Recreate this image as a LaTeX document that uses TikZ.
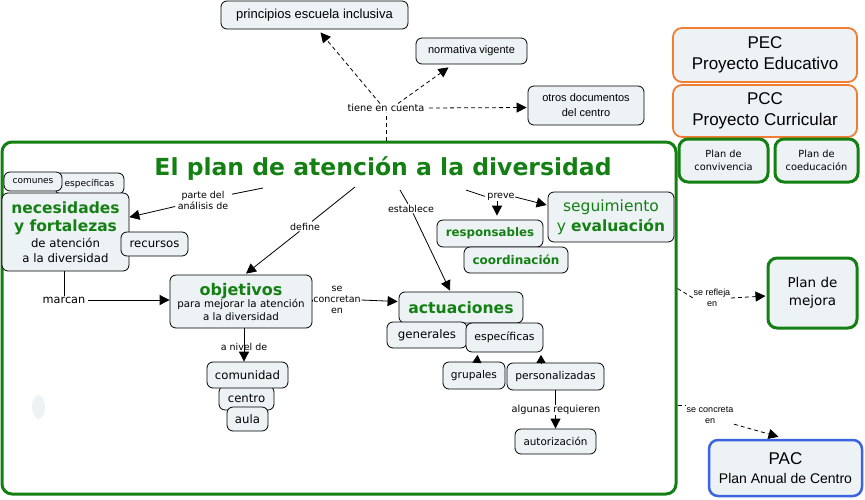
\documentclass[tikz,border=0pt]{standalone}
\usepackage{fontspec}
\setmainfont{DejaVu Sans}
\newfontfamily\verd{DejaVu Sans}
\newfontfamily\arial{Liberation Sans}
\usetikzlibrary{arrows.meta,calc}
\definecolor{mygreen}{RGB}{20,128,20}
\definecolor{myorange}{RGB}{240,125,50}
\definecolor{myblue}{RGB}{60,100,225}
\definecolor{nfill}{RGB}{237,242,245}
\newcommand{\fsz}[2]{\fontsize{#1}{#2}\selectfont}
\begin{document}
\begin{tikzpicture}[x=1pt,y=-1pt,
  cbox/.style={draw=black, line width=0.8pt, rounded corners=6pt, fill=nfill, inner sep=0pt, align=center, text=black},
  gbox/.style={cbox, draw=mygreen, line width=3pt, rounded corners=9pt},
  obox/.style={cbox, draw=myorange, line width=1.8pt, rounded corners=9pt},
  blbox/.style={cbox, draw=myblue, line width=2.5pt, rounded corners=9pt},
  sz/.style 2 args={minimum width=#1pt, minimum height=#2pt},
  lbl/.style={inner sep=0.5pt, align=center, font=\verd\fsz{9.5}{11}},
  con/.style={line width=0.8pt, draw=black},
  arr/.style={con, -{Triangle[length=10pt,width=10pt]}},
  sarr/.style={con, -{Triangle[length=8pt,width=9pt]}},
  dsh/.style={dash pattern=on 4pt off 3pt}]
\useasboundingbox (0,0) rectangle (865,499);

% faint blob
\fill[nfill] (38.5,407) ellipse [x radius=6.5pt, y radius=12pt];

% main frame and title
\node[draw=mygreen, line width=3pt, rounded corners=10pt, minimum width=674pt, minimum height=352pt, inner sep=0pt] (main) at (339,318) {};
\node[anchor=base, font=\verd\bfseries\fsz{23.5}{28}, text=mygreen, inner sep=0pt] (title) at (383,175) {El plan de atención a la diversidad};

% top concepts
\node[cbox, sz={187}{28}, font=\arial\fsz{13}{15}] (princ) at (314.5,15) {principios escuela inclusiva};
\node[cbox, sz={111}{26}, font=\arial\fsz{11}{13}] (norm) at (471.5,51) {normativa vigente};
\node[cbox, sz={116}{39}, font=\arial\fsz{11}{15}] (otros) at (586,105.5) {otros documentos\\del centro};
\node[lbl, font=\verd\fsz{9.8}{12}] (tiene) at (386,108) {tiene en cuenta};

% right side
\node[obox, sz={184}{54}, font=\arial\fsz{17}{21}] (pec) at (765,55) {PEC\\Proyecto Educativo};
\node[obox, sz={184}{52}, font=\arial\fsz{17}{21}] (pcc) at (765,111) {PCC\\Proyecto Curricular};
\node[gbox, sz={89}{43}, font=\verd\fsz{9.8}{13}] (conv) at (723.5,160.5) {Plan de\\convivencia};
\node[gbox, sz={83}{43}, font=\verd\fsz{9.8}{13}] (coed) at (816.5,160.5) {Plan de\\coeducación};
\node[gbox, sz={89}{70}, font=\verd\fsz{13.5}{18}] (mejora) at (812.5,293) {Plan de\\mejora};
\node[blbox, sz={153}{56}, font=\arial\fsz{14}{19}] (pac) at (785.5,468) {{\fsz{17}{19}PAC}\\Plan Anual de Centro};
\node[lbl, font=\arial\fsz{9}{11}] (refl) at (712,298) {se refleja\\en};
\node[lbl, font=\arial\fsz{9}{11}] (concr) at (710,415) {se concreta\\en};

% left group
\node[cbox, sz={69}{21}, font=\verd\fsz{9}{11}] (esp1) at (89.5,183.5) {específicas};
\node[cbox, sz={58}{19}, font=\verd\fsz{9}{11}] (comunes) at (33,181.5) {comunes};
\node[cbox, sz={127}{78}, font=\verd\fsz{11.7}{15}] (nec) at (65.5,232) {{\bfseries\color{mygreen}\fsz{15.5}{18}necesidades}\\[3pt]{\bfseries\color{mygreen}\fsz{15.5}{18}y fortalezas}\\[1pt]de atención\\a la diversidad};
\node[cbox, sz={67}{24}, font=\verd\fsz{11.7}{14}] (rec) at (154.5,244) {recursos};
\node[lbl] (parte) at (203,200) {parte del\\análisis de};
\node[lbl] (define) at (305,227) {define};
\node[lbl, font=\verd\fsz{11.3}{13}] (marcan) at (64,300) {marcan};

% objetivos
\node[cbox, sz={142}{53}, font=\verd\fsz{10.3}{12.5}] (obj) at (241,301.5) {{\bfseries\color{mygreen}\fsz{16}{19}objetivos}\\para mejorar la atención\\a la diversidad};
\node[lbl] (concretan) at (337,300) {se\\concretan\\en};
\node[lbl] (anivel) at (244,347) {a nivel de};
\node[cbox, sz={55}{24}, font=\verd\fsz{11.7}{14}] (centro) at (246.5,398) {centro};
\node[cbox, sz={81}{26}, font=\verd\fsz{11.7}{14}] (com) at (247.5,375) {comunidad};
\node[cbox, sz={41}{24}, font=\verd\fsz{11.7}{14}] (aula) at (247.5,419) {aula};

% actuaciones
\node[lbl] (estab) at (411,209) {establece};
\node[cbox, sz={124}{31}, font=\verd\bfseries\fsz{15.6}{18}, text=mygreen] (act) at (461,307.5) {actuaciones};
\node[cbox, sz={80}{26}, font=\verd\fsz{11.8}{14}] (gen) at (427,335) {generales};
\node[cbox, sz={77}{29}, font=\verd\fsz{10.9}{13}] (esp2) at (504.5,337.5) {específicas};
\node[cbox, sz={62}{27}, font=\verd\fsz{10.6}{13}] (grup) at (474,375.5) {grupales};
\node[cbox, sz={97}{27}, font=\verd\fsz{10.7}{13}] (pers) at (555.5,376.5) {personalizadas};
\node[lbl, font=\verd\fsz{9.8}{12}] (alg) at (556,410) {algunas requieren};
\node[cbox, sz={81}{25}, font=\verd\fsz{10.4}{13}] (autor) at (555.5,441.5) {autorización};

% seguimiento
\node[lbl] (preve) at (501,197) {preve};
\node[cbox, sz={126}{50}, font=\verd\fsz{15.5}{20}, text=mygreen] (seg) at (611,217) {seguimiento\\y \textbf{evaluación}};
\node[cbox, sz={106}{27}, font=\verd\bfseries\fsz{11.8}{14}, text=mygreen] (resp) at (490,233.5) {responsables};
\node[cbox, sz={104}{26}, font=\verd\bfseries\fsz{12}{14}, text=mygreen] (coord) at (516,260) {coordinación};

% link start points under the title
\coordinate (ps) at (263,188);
\coordinate (ds) at (355,187);
\coordinate (es) at (400,190);
\coordinate (pvs) at (466,190);

% connectors: tiene en cuenta
\draw[con,dsh] (main.north -| tiene) -- (tiene.south);
\draw[arr,dsh] ($(tiene.north)+(-6,0)$) -- ($(princ.south)+(6,3)$);
\draw[arr,dsh] ($(tiene.north)+(12,0)$) -- ($(norm.south)+(-23,3)$);
\draw[arr,dsh, shorten <=4pt] (tiene.east) -- ($(otros.west)+(-1,2)$);

% right-side connectors
\draw[con,dsh] (main.east |- refl.north) -- (refl.west);
\draw[arr,dsh] (refl.east) -- ($(mejora.west)+(-1,3)$);
\draw[con,dsh] (main.east |- concr.north) -- (concr.north west);
\draw[arr,dsh] (concr.south east) -- ($(pac.north)+(-7,-2)$);

% left connectors
\draw[con, shorten >=3pt] (ps) -- (parte);
\draw[arr, shorten <=2pt] (parte) -- (nec);
\draw[con, shorten >=2pt] (ds) -- (define);
\draw[arr] (define) -- ($(obj.north)+(5,-1)$);
\draw[con] (nec.south -| marcan) -- (marcan.north);
\draw[arr, shorten <=2pt] (marcan.east) -- (obj.west |- marcan.east);
\draw[con] (obj.east) -- (concretan.west);
\draw[arr] (concretan.east) -- ($(act.west)+(-1,-6)$);
\draw[con] (obj.south -| anivel) -- (anivel.center);
\draw[arr] (anivel.center) -- (com.north -| anivel.center);

% actuaciones connectors
\draw[con, shorten >=1pt] (es) -- (estab);
\draw[arr] (estab) -- ($(act.north)+(-11,-1)$);
\draw[sarr] ($(grup.north)+(3,1)$) -- ($(esp2.south)+(-27,2.5)$);
\draw[sarr] ($(pers.north)+(-14.5,1)$) -- ($(esp2.south)+(36.5,2.5)$);
\draw[con] (pers.south) -- (pers.south |- alg.north);
\draw[arr] (pers.south |- alg.south) -- (pers.south |- autor.north);

% preve connectors
\draw[con, shorten >=2pt] (pvs) -- (preve.west);
\draw[arr] (preve.east) -- ($(seg.west)+(-1,-12)$);
\draw[arr] ($(preve.south)+(-4,0)$) -- ($(resp.north)+(7,-4)$);
\end{tikzpicture}
\end{document}
